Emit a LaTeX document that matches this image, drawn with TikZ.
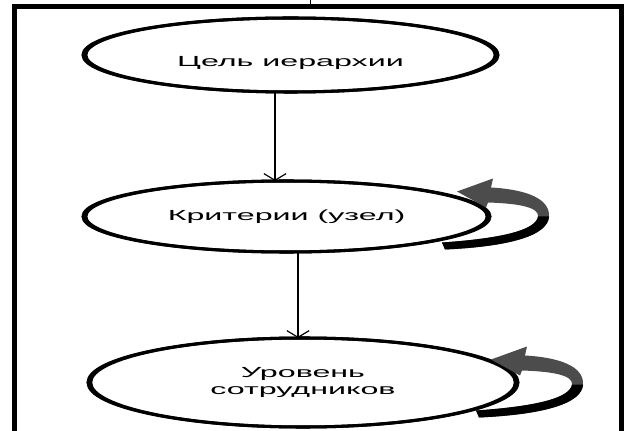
\documentclass[tikz,border=0pt]{standalone}
\usepackage{fontspec}
\setmainfont{Liberation Sans}[FakeStretch=2.2]
\usetikzlibrary{positioning,arrows.meta,shapes.geometric}

\tikzset{
  loopback/.pic={
    % curved arrow beside a node
    \fill[black!70] (-33,-25) -- (3,-38) -- (1,-29)
      .. controls (36,-27) and (60,-18) .. (59,0)
      .. controls (58,19) and (20,30) .. (-45,33) -- (-48,26)
      .. controls (10,22) and (46,14) .. (48,0)
      .. controls (49,-9) and (30,-13) .. (-2,-14) -- (-4,-9) -- cycle;
    \fill[black] (59,0) .. controls (58,19) and (20,30) .. (-45,33) -- (-48,26)
      .. controls (10,22) and (46,14) .. (48,0) -- cycle;
  }
}

\begin{document}
\begin{tikzpicture}[
  x=0.03cm, y=-0.03cm,
  stage/.style={ellipse,draw,line width=2.6pt,inner sep=0pt,outer sep=0pt,
    align=center,font=\fontsize{12.5}{15.3}\selectfont},
  rim/.style={line width=2.6pt},
  arr/.style={line width=1pt,-{Straight Barb[length=5.7pt,width=19pt,line width=1pt]}},
  frame/.style={line width=3.6pt}
]
  \useasboundingbox (0,0) rectangle (624,431);
  \begin{scope}
    \clip (0,0) rectangle (624,431);
    \draw[frame] (14.5,440) -- (14.5,6.5) -- (621.5,6.5) -- (621.5,440);
    \draw[line width=0.6pt] (310.5,0) -- (310.5,5);
  \end{scope}

  \node[stage,minimum width=12.45cm,minimum height=2.22cm,
    label={[yshift=-0.24cm,font=\fontsize{12.5}{15.3}\selectfont]center:Цель иерархии}] (e1) at (290.5,55) {};
  \node[stage,minimum width=12.21cm,minimum height=2.13cm] (e2) at (286.5,216.5) {Критерии (узел)};
  \node[stage,minimum width=12.9cm,minimum height=2.67cm] (e3) at (303,382.5) {Уровень\\сотрудников};

  % thicker ends of the rims
  \draw[rim] (e1.center) ellipse [x radius=6.14cm, y radius=1.11cm];
  \draw[rim] (e2.center) ellipse [x radius=6.02cm, y radius=1.065cm];
  \draw[rim] (e3.center) ellipse [x radius=6.37cm, y radius=1.335cm];

  \draw[arr] ([xshift=-0.465cm]e1.south) -- ([xshift=-0.465cm]e1.south |- e2.north);
  \draw[arr] ([xshift=0.345cm]e2.south) -- ([xshift=0.345cm]e2.south |- e3.north);

  \pic at (e2.east) {loopback};
  \pic at ([shift={(6,2)}]e3.east) {loopback};
\end{tikzpicture}
\end{document}
